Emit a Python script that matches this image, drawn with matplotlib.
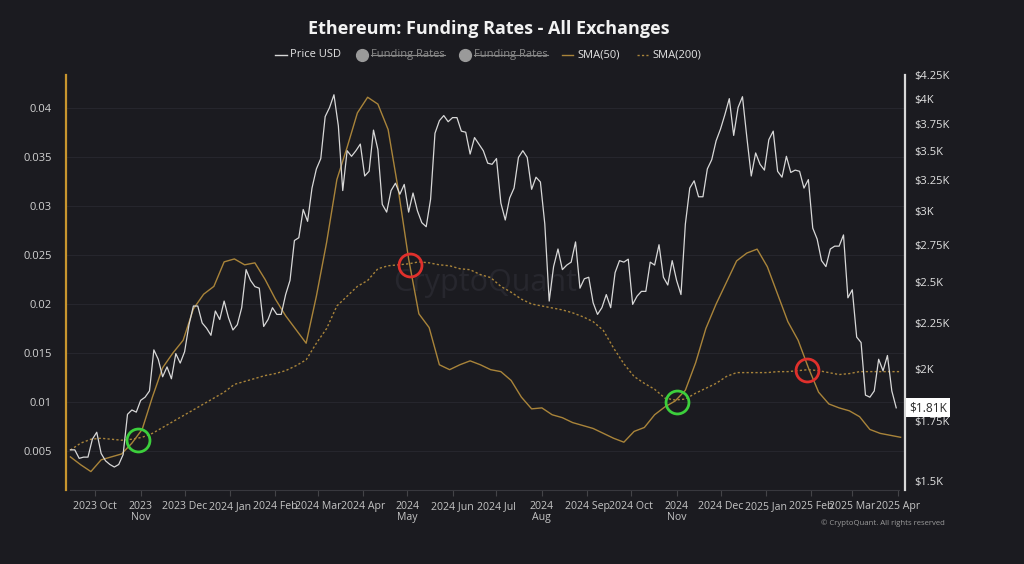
import matplotlib
matplotlib.use('Agg')
import matplotlib.pyplot as plt
import matplotlib.dates as mdates
from matplotlib.lines import Line2D
from matplotlib.ticker import FixedLocator, NullLocator, FuncFormatter
import pandas as pd

plt.rcParams['font.family'] = ['Open Sans', 'DejaVu Sans']

bg = '#1b1b20'
price_color = '#d8d8d8'
sma_color = '#a9843a'
W, H = 1024, 564

# ETH price, one value every 3 days from 2023-09-14
price_usd = [
    1625, 1625, 1590, 1595, 1595, 1670, 1700, 1610, 1580, 1565,
    1555, 1565, 1605, 1780, 1800, 1790, 1845, 1860, 1890, 2100,
    2050, 1960, 2010, 1950, 2080, 2030, 2090, 2240, 2350, 2350,
    2250, 2220, 2180, 2320, 2270, 2380, 2280, 2210, 2240, 2340,
    2580, 2510, 2470, 2460, 2230, 2270, 2340, 2300, 2300, 2420,
    2510, 2780, 2800, 3010, 2920, 3180, 3340, 3430, 3820, 3910,
    4040, 3730, 3160, 3500, 3450, 3500, 3560, 3280, 3320, 3690,
    3510, 3050, 2990, 3160, 3220, 3130, 3210, 2990, 3140, 3000,
    2910, 2880, 3090, 3660, 3780, 3830, 3770, 3810, 3810, 3680,
    3670, 3470, 3620, 3560, 3500, 3390, 3380, 3430, 3060, 2930,
    3100, 3180, 3440, 3500, 3440, 3170, 3270, 3230, 2900, 2380,
    2600, 2720, 2580, 2610, 2630, 2770, 2460, 2520, 2530, 2370,
    2300, 2340, 2420, 2340, 2560, 2640, 2630, 2650, 2360, 2410,
    2440, 2440, 2630, 2610, 2750, 2530, 2480, 2640, 2510, 2420,
    2900, 3180, 3240, 3110, 3110, 3340, 3420, 3590, 3700, 3840,
    4000, 3640, 3910, 4020, 3620, 3280, 3480, 3380, 3330, 3600,
    3680, 3320, 3270, 3450, 3310, 3330, 3320, 3180, 3250, 2870,
    2790, 2640, 2600, 2720, 2740, 2740, 2820, 2400, 2450, 2170,
    2140, 1870, 1860, 1890, 2050, 1990, 2070, 1890, 1810,
]
price_dates = pd.date_range('2023-09-14', periods=len(price_usd), freq='3D')

# funding rate moving averages, weekly from 2023-09-14
sma50 = [
    0.0044, 0.0036, 0.0029, 0.0041, 0.0044, 0.0047, 0.0058, 0.0072, 0.0105, 0.0135,
    0.0150, 0.0163, 0.0195, 0.0210, 0.0218, 0.0243, 0.0246, 0.0240, 0.0242, 0.0225,
    0.0205, 0.0188, 0.0174, 0.0160, 0.0208, 0.0263, 0.0327, 0.0360, 0.0395, 0.0411,
    0.0404, 0.0378, 0.0316, 0.0246, 0.0190, 0.0176, 0.0138, 0.0133, 0.0138, 0.0142,
    0.0138, 0.0133, 0.0131, 0.0122, 0.0105, 0.0093, 0.0094, 0.0087, 0.0084, 0.0079,
    0.0076, 0.0073, 0.0068, 0.0063, 0.0059, 0.0070, 0.0074, 0.0087, 0.0095, 0.0101,
    0.0112, 0.0140, 0.0175, 0.0200, 0.0222, 0.0244, 0.0252, 0.0256, 0.0238, 0.0210,
    0.0182, 0.0163, 0.0135, 0.0110, 0.0098, 0.0094, 0.0091, 0.0085, 0.0072, 0.0068,
    0.0066, 0.0064,
]
sma200 = [
    0.0051, 0.0058, 0.0062, 0.0063, 0.0062, 0.0061, 0.0062, 0.0064, 0.0068, 0.0074,
    0.0080, 0.0086, 0.0092, 0.0098, 0.0104, 0.0110, 0.0118, 0.0121, 0.0124, 0.0127,
    0.0129, 0.0132, 0.0137, 0.0143, 0.0160, 0.0175, 0.0198, 0.0208, 0.0218, 0.0224,
    0.0236, 0.0239, 0.0240, 0.0241, 0.0243, 0.0242, 0.0240, 0.0239, 0.0236, 0.0235,
    0.0230, 0.0227, 0.0218, 0.0212, 0.0205, 0.0200, 0.0198, 0.0196, 0.0194, 0.0191,
    0.0187, 0.0182, 0.0173, 0.0155, 0.0139, 0.0126, 0.0119, 0.0113, 0.0104, 0.0102,
    0.0103, 0.0109, 0.0114, 0.0119, 0.0126, 0.0130, 0.0130, 0.0130, 0.0130, 0.0131,
    0.0131, 0.0132, 0.0133, 0.0132, 0.0130, 0.0128, 0.0129, 0.0131, 0.0131, 0.0131,
    0.0131, 0.0131,
]
sma_dates = pd.date_range('2023-09-14', periods=len(sma50), freq='7D')

cross_dates = pd.to_datetime(['2023-10-30', '2024-05-03', '2024-11-01', '2025-01-29'])
cross_values = [0.0061, 0.0240, 0.0100, 0.0133]
cross_colors = ['#3ccf3c', '#e0302c', '#3ccf3c', '#e0302c']

month_ticks = pd.date_range('2023-10-01', '2025-04-01', freq='MS')
month_labels = ['2023 Oct', '2023\nNov', '2023 Dec', '2024 Jan', '2024 Feb', '2024 Mar',
                '2024 Apr', '2024\nMay', '2024 Jun', '2024 Jul', '2024\nAug', '2024 Sep',
                '2024 Oct', '2024\nNov', '2024 Dec', '2025 Jan', '2025 Feb', '2025 Mar',
                '2025 Apr']

rate_ticks = [0.005, 0.01, 0.015, 0.02, 0.025, 0.03, 0.035, 0.04]
price_ticks = [1500, 1750, 2000, 2250, 2500, 2750, 3000, 3250, 3500, 3750, 4000, 4250]
price_labels = ['$1.5K', '$1.75K', '$2K', '$2.25K', '$2.5K', '$2.75K', '$3K', '$3.25K',
                '$3.5K', '$3.75K', '$4K', '$4.25K']

fig = plt.figure(figsize=(W / 100, H / 100), dpi=100, facecolor=bg)
ax = fig.add_axes([66 / W, 1 - 490 / H, (905 - 66) / W, (490 - 75) / H])
ax.set_facecolor(bg)
ax2 = ax.twinx()

# funding rate SMAs on the left axis
ax.plot(sma_dates, sma50, color=sma_color, lw=1.0, zorder=3)
ax.plot(sma_dates, sma200, color=sma_color, lw=1.0, ls=(0, (1.6, 1.6)), zorder=3)
ax.set_ylim(0.00102, 0.04337)
ax.set_xlim(pd.Timestamp('2023-09-11'), pd.Timestamp('2025-04-06'))
ax.yaxis.set_major_locator(FixedLocator(rate_ticks))
ax.yaxis.set_major_formatter(FuncFormatter(lambda v, p: ('%.3f' % v).rstrip('0')))
ax.grid(axis='y', color='#26262d', lw=0.8)
ax.set_axisbelow(True)
ax.set_xticks(month_ticks)
ax.set_xticklabels(month_labels, linespacing=1.0)
ax.tick_params(axis='x', colors='#444448', length=4, width=0.8, pad=4,
               labelcolor='#c4c4c4', labelsize=7.6)
ax.tick_params(axis='y', length=0, pad=10, labelcolor='#d2d2d2', labelsize=8)

# price on the right log axis
ax2.plot(price_dates, price_usd, color=price_color, lw=0.9, zorder=4)
ax2.set_yscale('log')
ax2.set_ylim(1466, 4250)
ax2.yaxis.set_major_locator(FixedLocator(price_ticks))
ax2.yaxis.set_minor_locator(NullLocator())
ax2.set_yticklabels(price_labels)
ax2.tick_params(axis='y', which='both', length=0, pad=7, labelcolor='#e2e2e2', labelsize=8)

for a in (ax, ax2):
    a.spines['top'].set_visible(False)
ax.spines['left'].set_color('#c8952e')
ax.spines['left'].set_linewidth(1.6)
ax.spines['right'].set_visible(False)
ax2.spines['left'].set_visible(False)
ax2.spines['bottom'].set_visible(False)
ax2.spines['right'].set_color('#d8d8d8')
ax2.spines['right'].set_linewidth(1.6)
ax.spines['bottom'].set_color('#38383e')
ax.spines['bottom'].set_bounds(mdates.date2num(pd.Timestamp('2023-09-14')),
                               mdates.date2num(pd.Timestamp('2025-04-02')))

# crossover circles
for d, v, c in zip(cross_dates, cross_values, cross_colors):
    ax2.plot([d], [v], marker='o', ms=16.5, mfc='none', mec=c, mew=2.0,
             transform=ax.transData, zorder=6)
ax2.set_ylim(1466, 4250)

# last price badge
ax2.annotate('$1.81K', xy=(1.0, price_usd[-1]), xycoords=('axes fraction', 'data'),
             xytext=(3, 0), textcoords='offset points', ha='left', va='center',
             fontsize=8.6, color='#2a2a2a',
             bbox=dict(boxstyle='square,pad=0.25', fc='white', ec='none'))

# watermark
ax.text(0.5, 0.5, 'CryptoQuant', transform=ax.transAxes, ha='center', va='center',
        fontsize=22, color='#27272e', zorder=1)

fig.text(489 / W, 1 - 29 / H, 'Ethereum: Funding Rates - All Exchanges', ha='center',
         va='center', fontsize=13, fontweight='bold', color='#f2f2f2')
fig.text(945 / W, 1 - 523 / H, '\u00a9 CryptoQuant. All rights reserved', ha='right',
         va='center', fontsize=5.6, color='#9a9a9a')

# legend
ly = 1 - 55 / H
fig.add_artist(Line2D([275 / W, 287 / W], [ly, ly], color=price_color, lw=1.0))
fig.text(290 / W, ly, 'Price USD', ha='left', va='center', fontsize=8, color='#e4e4e4')
renderer = fig.canvas.get_renderer()
for cx in (362, 465):
    fig.add_artist(Line2D([cx / W], [ly], marker='o', ms=8.5, color='#9a9a9a', ls='none'))
    t = fig.text((cx + 9) / W, ly, 'Funding Rates', ha='left', va='center',
                 fontsize=8, color='#8a8a8a')
    bb = t.get_window_extent(renderer).transformed(fig.transFigure.inverted())
    fig.add_artist(Line2D([bb.x0, bb.x1], [ly, ly], color='#8a8a8a', lw=0.8))
fig.add_artist(Line2D([562 / W, 573 / W], [ly, ly], color=sma_color, lw=1.0))
fig.text(577 / W, ly, 'SMA(50)', ha='left', va='center', fontsize=8, color='#e4e4e4')
fig.add_artist(Line2D([637 / W, 648 / W], [ly, ly], color=sma_color, lw=1.0,
                      ls=(0, (1.6, 1.6))))
fig.text(652 / W, ly, 'SMA(200)', ha='left', va='center', fontsize=8, color='#e4e4e4')

fig.savefig('out.png', dpi=100, facecolor=bg)
